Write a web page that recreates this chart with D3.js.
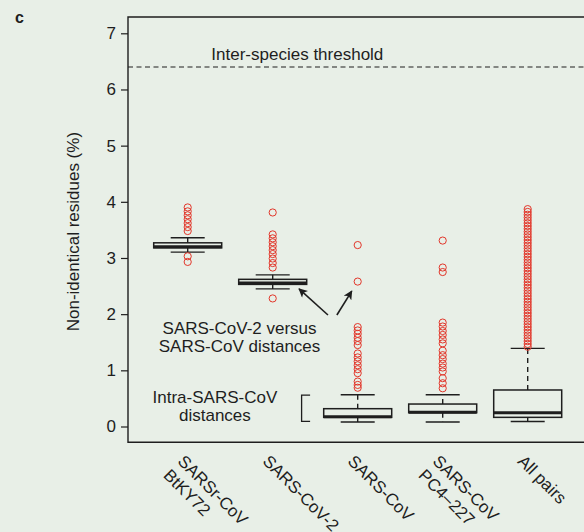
<!DOCTYPE html>
<html>
<head>
<meta charset="utf-8">
<script src="https://cdn.jsdelivr.net/npm/d3@7"></script>
<style>
  body { margin: 0; background: #e8efe7; }
  svg { display: block; font-family: 'Liberation Sans', Arial, sans-serif; }
</style>
</head>
<body>
<svg id="chart" width="584" height="532"></svg>
<script>
// groups, one label line per array entry
const categories = [['SARSr-CoV', 'BtKY72'], ['SARS-CoV-2'], ['SARS-CoV'], ['SARS-CoV', 'PC4–227'], ['All pairs']]

// box statistics (% non-identical residues)
const whiskLo = [3.105, 2.45, 0.08, 0.08, 0.09]
const q1 = [3.18, 2.53, 0.163, 0.246, 0.163]
const median = [3.20, 2.555, 0.175, 0.255, 0.245]
const q3 = [3.27, 2.62, 0.317, 0.40, 0.65]
const whiskHi = [3.36, 2.70, 0.566, 0.566, 1.39]

const outliers = [
  [3.90, 3.83, 3.76, 3.69, 3.62, 3.55, 3.48, 3.03, 2.93],
  [3.81, 3.42, 3.35, 3.28, 3.21, 3.14, 3.07, 2.99, 2.91, 2.83, 2.28],
  [3.23, 2.58, 1.77, 1.71, 1.65, 1.58, 1.52, 1.45, 1.30, 1.23, 1.16, 1.09, 1.02, 0.95, 0.80, 0.74, 0.69],
  [3.31, 2.83, 2.75, 1.85, 1.78, 1.70, 1.63, 1.55, 1.48, 1.35, 1.27, 1.20, 1.12, 1.05, 0.98, 0.86, 0.77, 0.68],
  [3.87, 3.82, 3.77, 3.72, 3.67, 3.62, 3.57, 3.52, 3.47, 3.42, 3.37, 3.32, 3.27, 3.22, 3.17, 3.12,
    3.07, 3.02, 2.97, 2.92, 2.87, 2.82, 2.77, 2.72, 2.67, 2.62, 2.57, 2.52, 2.47, 2.42, 2.37, 2.32,
    2.27, 2.22, 2.17, 2.12, 2.07, 2.02, 1.97, 1.92, 1.87, 1.82, 1.77, 1.72, 1.67, 1.62, 1.57, 1.52,
    1.47, 1.42]
]

const yTicks = [0, 1, 2, 3, 4, 5, 6, 7]
const threshold = 6.4

const INK = '#1e1e1e'
const RED = '#e2372b'
const FONT = 17

const svg = d3.select('#chart')

// scales: index scale for group centres and annotations, value scale for y
const xi = d3.scaleLinear().domain([1, 5]).range([187.7, 527.7])
const y = d3.scaleLinear().domain([0, 7]).range([426.5, 33.3])
const yLim = [-0.28, 7.29]
const boxW = 68
const capW = 34

const plotLeft = 128
const plotRight = 600
const plotTop = y(yLim[1])
const plotBottom = y(yLim[0])

// arrow head marker
svg.append('defs').append('marker')
  .attr('id', 'head')
  .attr('viewBox', '0 0 10 10')
  .attr('refX', 9)
  .attr('refY', 5)
  .attr('markerWidth', 10)
  .attr('markerHeight', 9)
  .attr('markerUnits', 'userSpaceOnUse')
  .attr('orient', 'auto')
  .append('path')
  .attr('d', 'M0,0 L10,5 L0,10 L2.5,5 Z')
  .attr('fill', INK)

// frame
svg.append('path')
  .attr('d', `M${plotRight},${plotTop} H${plotLeft} V${plotBottom} H${plotRight}`)
  .attr('fill', 'none')
  .attr('stroke', INK)
  .attr('stroke-width', 1.4)

// y axis
const yAxis = svg.append('g')
  .attr('transform', `translate(${plotLeft},0)`)
  .call(d3.axisLeft(y).tickValues(yTicks).tickFormat(d3.format('d')).tickSize(7).tickPadding(5).tickSizeOuter(0))
yAxis.select('.domain').remove()
yAxis.selectAll('line').attr('stroke', INK).attr('stroke-width', 1.2)
yAxis.selectAll('text')
  .attr('fill', INK)
  .style('font-size', `${FONT}px`)
  .style('font-family', "'Liberation Sans', Arial, sans-serif")

svg.append('text')
  .attr('transform', `translate(78.5,${(plotTop + plotBottom) / 2 + 2}) rotate(-90)`)
  .attr('text-anchor', 'middle')
  .attr('fill', INK)
  .style('font-size', `${FONT}px`)
  .text('Non-identical residues (%)')

// panel letter
svg.append('text')
  .attr('x', 15)
  .attr('y', 23)
  .attr('fill', INK)
  .style('font-size', '16px')
  .style('font-weight', 'bold')
  .text('c')

// threshold
svg.append('line')
  .attr('x1', plotLeft)
  .attr('x2', plotRight)
  .attr('y1', y(threshold))
  .attr('y2', y(threshold))
  .attr('stroke', INK)
  .attr('stroke-width', 1.2)
  .attr('stroke-dasharray', '5,3.5')

svg.append('text')
  .attr('x', xi(2.29))
  .attr('y', y(6.525))
  .attr('text-anchor', 'middle')
  .attr('fill', INK)
  .style('font-size', `${FONT}px`)
  .text('Inter-species threshold')

// boxes
const groups = svg.selectAll('g.box')
  .data(categories.map((c, i) => ({ i: i + 1, lo: whiskLo[i], q1: q1[i], med: median[i], q3: q3[i], hi: whiskHi[i], out: outliers[i] })))
  .join('g')
  .classed('box', true)

groups.append('line')
  .attr('x1', d => xi(d.i)).attr('x2', d => xi(d.i))
  .attr('y1', d => y(d.q3)).attr('y2', d => y(d.hi))
  .attr('stroke', INK).attr('stroke-width', 1.4).attr('stroke-dasharray', '5,4')

groups.append('line')
  .attr('x1', d => xi(d.i)).attr('x2', d => xi(d.i))
  .attr('y1', d => y(d.q1)).attr('y2', d => y(d.lo))
  .attr('stroke', INK).attr('stroke-width', 1.4).attr('stroke-dasharray', '5,4')

groups.selectAll('line.cap')
  .data(d => [d.lo, d.hi].map(v => ({ i: d.i, v })))
  .join('line')
  .classed('cap', true)
  .attr('x1', d => xi(d.i) - capW / 2).attr('x2', d => xi(d.i) + capW / 2)
  .attr('y1', d => y(d.v)).attr('y2', d => y(d.v))
  .attr('stroke', INK).attr('stroke-width', 1.4)

groups.append('rect')
  .attr('x', d => xi(d.i) - boxW / 2)
  .attr('y', d => y(d.q3))
  .attr('width', boxW)
  .attr('height', d => y(d.q1) - y(d.q3))
  .attr('fill', 'none')
  .attr('stroke', INK)
  .attr('stroke-width', 1.5)

groups.append('line')
  .attr('x1', d => xi(d.i) - boxW / 2).attr('x2', d => xi(d.i) + boxW / 2)
  .attr('y1', d => y(d.med)).attr('y2', d => y(d.med))
  .attr('stroke', INK).attr('stroke-width', 3)

groups.selectAll('circle')
  .data(d => d.out.map(v => ({ i: d.i, v })))
  .join('circle')
  .attr('cx', d => xi(d.i))
  .attr('cy', d => y(d.v))
  .attr('r', 3.6)
  .attr('fill', 'none')
  .attr('stroke', RED)
  .attr('stroke-width', 1)

// rotated category labels
const labels = svg.selectAll('text.cat')
  .data(categories)
  .join('text')
  .classed('cat', true)
  .attr('transform', (d, i) => `translate(${xi(i + 1) - 11},${plotBottom + 20}) rotate(45)`)
  .attr('fill', INK)
  .style('font-size', `${FONT}px`)

labels.selectAll('tspan')
  .data(d => d)
  .join('tspan')
  .attr('x', 0)
  .attr('dy', (d, k) => k === 0 ? 0 : 20)
  .text(d => d)

// annotations
function annotLines (lines, xIdx, yVals) {
  svg.append('g').selectAll('text')
    .data(lines)
    .join('text')
    .attr('x', xi(xIdx))
    .attr('y', (d, k) => y(yVals[k]))
    .attr('text-anchor', 'middle')
    .attr('fill', INK)
    .style('font-size', `${FONT}px`)
    .text(d => d)
}

annotLines(['SARS-CoV-2 versus', 'SARS-CoV distances'], 1.61, [1.65, 1.33])
annotLines(['Intra-SARS-CoV', 'distances'], 1.32, [0.42, 0.10])

const arrows = [
  { from: [2.65, 1.985], to: [2.31, 2.45] },
  { from: [2.755, 1.985], to: [2.93, 2.41] }
]
svg.selectAll('line.arrow')
  .data(arrows)
  .join('line')
  .classed('arrow', true)
  .attr('x1', d => xi(d.from[0])).attr('y1', d => y(d.from[1]))
  .attr('x2', d => xi(d.to[0])).attr('y2', d => y(d.to[1]))
  .attr('stroke', INK)
  .attr('stroke-width', 1.6)
  .attr('marker-end', 'url(#head)')

// bracket for the intra-SARS-CoV boxes
const br = { x: [2.34, 2.44], y: [0.56, 0.09] }
svg.append('path')
  .attr('d', `M${xi(br.x[1])},${y(br.y[0])} H${xi(br.x[0])} V${y(br.y[1])} H${xi(br.x[1])}`)
  .attr('fill', 'none')
  .attr('stroke', INK)
  .attr('stroke-width', 1.3)
</script>
</body>
</html>
